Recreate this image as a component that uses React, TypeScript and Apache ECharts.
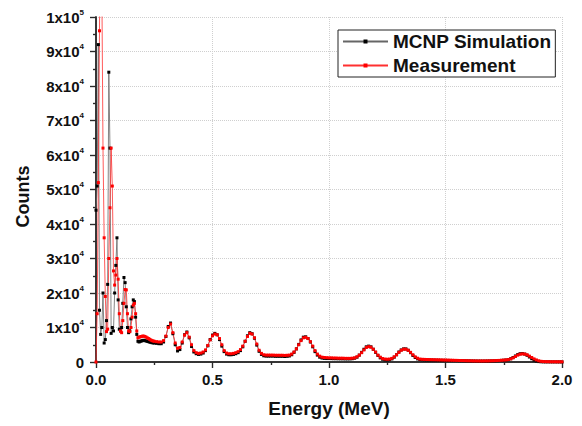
import React, { useEffect, useRef } from "react";
import * as echarts from "echarts";

// Channel grid: fine step below 0.25 MeV, coarser above
const LOW_START = 0;
const LOW_STEP = 0.005;
const HIGH_START = 0.25;
const HIGH_STEP = 0.01;

// MCNP Simulation, 0.000 - 0.245 MeV (step 0.005)
const mcnpLow = [
  44000, 51000, 92000, 15000, 8000, 10000, 20000, 5500, 6500, 12000,
  22500, 84000, 62000, 8300, 10000, 9000, 20000, 28000, 36000, 18000,
  9500, 9000, 10000, 17000, 24500, 23000, 16000, 10000, 8500, 9000,
  12500, 16000, 18000, 17500, 13000, 8000, 6000, 5800, 6000, 6100,
  6200, 6300, 6200, 6100, 6000, 5900, 5800, 5700, 5600, 5550,
];
// Measurement, 0.000 - 0.245 MeV (step 0.005)
const measLow = [
  0, 14000, 52000, 96000, 150000, 110000, 62000, 36000, 19000, 8800,
  9500, 30000, 44700, 62000, 51000, 26400, 22300, 25200, 30000, 24000,
  14000, 9000, 8500, 12000, 17000, 21000, 20900, 14000, 9000, 8800,
  10000, 13000, 16500, 17000, 14000, 9000, 7000, 7200, 7300, 7400,
  7500, 7500, 7400, 7200, 7000, 6800, 6600, 6400, 6200, 6100,
];
// MCNP Simulation, 0.25 - 2.00 MeV (step 0.01)
const mcnpHigh = [
  5500, 5400, 5300, 5300, 5800, 7400, 10300, 11300, 8200, 5000,
  3200, 3600, 5500, 7900, 8700, 7000, 4500, 2900, 2400, 2200,
  2300, 2600, 3300, 4700, 6500, 7800, 8300, 7900, 6500, 4600,
  3000, 2300, 2100, 2100, 2200, 2400, 2700, 3300, 4400, 6000,
  7600, 8500, 8200, 6900, 4900, 3100, 2200, 1800, 1700, 1700,
  1700, 1700, 1650, 1650, 1650, 1650, 1600, 1650, 1750, 2100,
  2800, 3800, 5100, 6400, 7200, 7300, 6800, 5800, 4400, 3000,
  2000, 1400, 1150, 1050, 1000, 1000, 980, 960, 950, 940,
  930, 920, 900, 900, 900, 950, 1100, 1400, 2000, 2800,
  3700, 4400, 4600, 4400, 3700, 2800, 1900, 1200, 800, 620,
  600, 680, 900, 1400, 2100, 2900, 3500, 3800, 3800, 3400,
  2700, 1900, 1300, 900, 700, 640, 620, 600, 580, 560,
  540, 520, 500, 490, 480, 470, 460, 450, 440, 430,
  420, 400, 380, 360, 340, 320, 300, 280, 270, 260,
  260, 260, 270, 280, 300, 320, 350, 380, 420, 460,
  510, 580, 700, 950, 1300, 1750, 2150, 2400, 2450, 2300,
  1950, 1450, 950, 550, 280, 120, 60, 40, 30, 30,
  30, 20, 20, 20, 20, 20,
];
// Measurement, 0.25 - 2.00 MeV (step 0.01)
const measHigh = [
  6000, 5900, 5800, 5800, 6200, 7500, 10000, 11000, 8500, 5500,
  4000, 4200, 5800, 7800, 8500, 7200, 5000, 3300, 2700, 2500,
  2600, 2900, 3500, 4800, 6400, 7600, 8100, 7900, 6800, 5000,
  3300, 2600, 2400, 2400, 2500, 2700, 3000, 3600, 4600, 6000,
  7400, 8300, 8100, 7000, 5200, 3400, 2500, 2100, 2000, 2000,
  2000, 2000, 1950, 1950, 1950, 1950, 1900, 1950, 2000, 2300,
  2900, 3800, 5000, 6200, 7000, 7150, 6800, 5900, 4600, 3300,
  2300, 1700, 1400, 1300, 1250, 1200, 1200, 1150, 1150, 1100,
  1100, 1100, 1050, 1050, 1050, 1100, 1200, 1500, 2000, 2700,
  3500, 4200, 4450, 4300, 3700, 2900, 2000, 1400, 1000, 850,
  800, 850, 1050, 1500, 2100, 2800, 3400, 3700, 3700, 3400,
  2800, 2100, 1500, 1100, 850, 780, 750, 720, 700, 680,
  660, 640, 620, 600, 580, 560, 540, 520, 500, 480,
  460, 440, 420, 400, 380, 360, 340, 320, 310, 300,
  300, 300, 310, 320, 340, 360, 390, 420, 460, 500,
  550, 600, 700, 900, 1200, 1600, 2000, 2250, 2350, 2300,
  2100, 1700, 1300, 900, 600, 350, 200, 130, 100, 90,
  80, 70, 70, 60, 60, 50,
];

const X_TICKS = [0, 0.5, 1.0, 1.5, 2.0];
const SERIES_NAMES = ["MCNP Simulation", "Measurement"];

const FONT = "'Liberation Sans', Arial, Helvetica, sans-serif";

function toPairs(low: number[], high: number[]): [number, number][] {
  const out: [number, number][] = [];
  low.forEach((v, i) => out.push([+(LOW_START + i * LOW_STEP).toFixed(3), v]));
  high.forEach((v, i) => out.push([+(HIGH_START + i * HIGH_STEP).toFixed(3), v]));
  return out;
}

export default function App() {
  const ref = useRef<HTMLDivElement>(null);
  useEffect(() => {
    if (!ref.current) return;
    const chart = echarts.init(ref.current, null, { renderer: "svg" });
    const axisLine = { show: true, lineStyle: { color: "#2a2a2a", width: 1.5 } };
    const labelStyle = { fontFamily: FONT, fontSize: 15, fontWeight: "bold" as const, color: "#111" };
    chart.setOption({
      animation: false,
      backgroundColor: "#fff",
      grid: { left: 96, right: 20, top: 17, bottom: 64, containLabel: false },
      legend: {
        data: SERIES_NAMES,
        orient: "vertical",
        left: 338,
        top: 30,
        itemWidth: 45,
        itemHeight: 5,
        itemGap: 5,
        padding: [2, 4, 2, 4],
        borderColor: "#222",
        borderWidth: 1,
        backgroundColor: "#fff",
        textStyle: { fontFamily: FONT, fontSize: 19, fontWeight: "bold", color: "#111" },
      },
      xAxis: [
        {
          type: "value",
          min: X_TICKS[0],
          max: X_TICKS[X_TICKS.length - 1],
          interval: 0.5,
          position: "bottom",
          name: "Energy (MeV)",
          nameLocation: "middle",
          nameGap: 37,
          nameTextStyle: { fontFamily: FONT, fontSize: 19, fontWeight: "bold", color: "#111" },
          axisLine,
          axisTick: { show: true, inside: false, length: 6, lineStyle: { color: "#2a2a2a", width: 1.2 } },
          minorTick: { show: true, splitNumber: 2, length: 3, lineStyle: { color: "#2a2a2a", width: 1.2 } },
          axisLabel: { ...labelStyle, margin: 10, formatter: (v: number) => v.toFixed(1) },
          splitLine: { show: true, lineStyle: { color: "#cfcfcf", type: "dotted", width: 1 } },
        },
        {
          type: "value",
          min: X_TICKS[0],
          max: X_TICKS[X_TICKS.length - 1],
          interval: 0.5,
          position: "top",
          axisLine,
          axisTick: { show: true, inside: true, length: 6, lineStyle: { color: "#2a2a2a", width: 1.2 } },
          minorTick: { show: true, splitNumber: 2, length: 3, lineStyle: { color: "#2a2a2a", width: 1.2 } },
          axisLabel: { show: false },
          splitLine: { show: false },
        },
      ],
      yAxis: [
        {
          type: "value",
          min: 0,
          max: 100000,
          interval: 10000,
          position: "left",
          name: "Counts",
          nameLocation: "middle",
          nameGap: 64,
          nameTextStyle: { fontFamily: FONT, fontSize: 18, fontWeight: "bold", color: "#111", padding: [0, 14, 0, 0] },
          axisLine,
          axisTick: { show: true, inside: false, length: 6, lineStyle: { color: "#2a2a2a", width: 1.2 } },
          minorTick: { show: true, splitNumber: 2, length: 3, lineStyle: { color: "#2a2a2a", width: 1.2 } },
          axisLabel: {
            margin: 12,
            formatter: (v: number) => {
              if (v === 0) return "{b|0}";
              if (v >= 100000) return "{b|1x10}{s|5}";
              return `{b|${Math.round(v / 10000)}x10}{s|4}`;
            },
            rich: {
              b: { ...labelStyle, lineHeight: 18 },
              s: { fontFamily: FONT, fontSize: 8, fontWeight: "bold", color: "#111", verticalAlign: "top", lineHeight: 10 },
            },
          },
          splitLine: { show: true, lineStyle: { color: "#cfcfcf", type: "dotted", width: 1 } },
        },
        {
          type: "value",
          min: 0,
          max: 100000,
          interval: 10000,
          position: "right",
          axisLine,
          axisTick: { show: true, inside: true, length: 6, lineStyle: { color: "#2a2a2a", width: 1.2 } },
          minorTick: { show: true, splitNumber: 2, length: 3, lineStyle: { color: "#2a2a2a", width: 1.2 } },
          axisLabel: { show: false },
          splitLine: { show: false },
        },
      ],
      series: [
        {
          name: SERIES_NAMES[0],
          type: "line",
          xAxisIndex: 0,
          yAxisIndex: 0,
          data: toPairs(mcnpLow, mcnpHigh),
          symbol: "rect",
          symbolSize: 3,
          clip: true,
          lineStyle: { color: "#666", width: 0.8 },
          itemStyle: { color: "#000" },
          emphasis: { disabled: true },
        },
        {
          name: SERIES_NAMES[1],
          type: "line",
          xAxisIndex: 0,
          yAxisIndex: 0,
          data: toPairs(measLow, measHigh),
          symbol: "rect",
          symbolSize: 3,
          clip: true,
          lineStyle: { color: "#ff3030", width: 0.8 },
          itemStyle: { color: "#ff0000" },
          emphasis: { disabled: true },
        },
      ],
    });
    return () => chart.dispose();
  }, []);
  return (
    <div
      ref={ref}
      style={{ position: "fixed", left: 0, top: 0, width: 582, height: 426, background: "#fff" }}
    />
  );
}
